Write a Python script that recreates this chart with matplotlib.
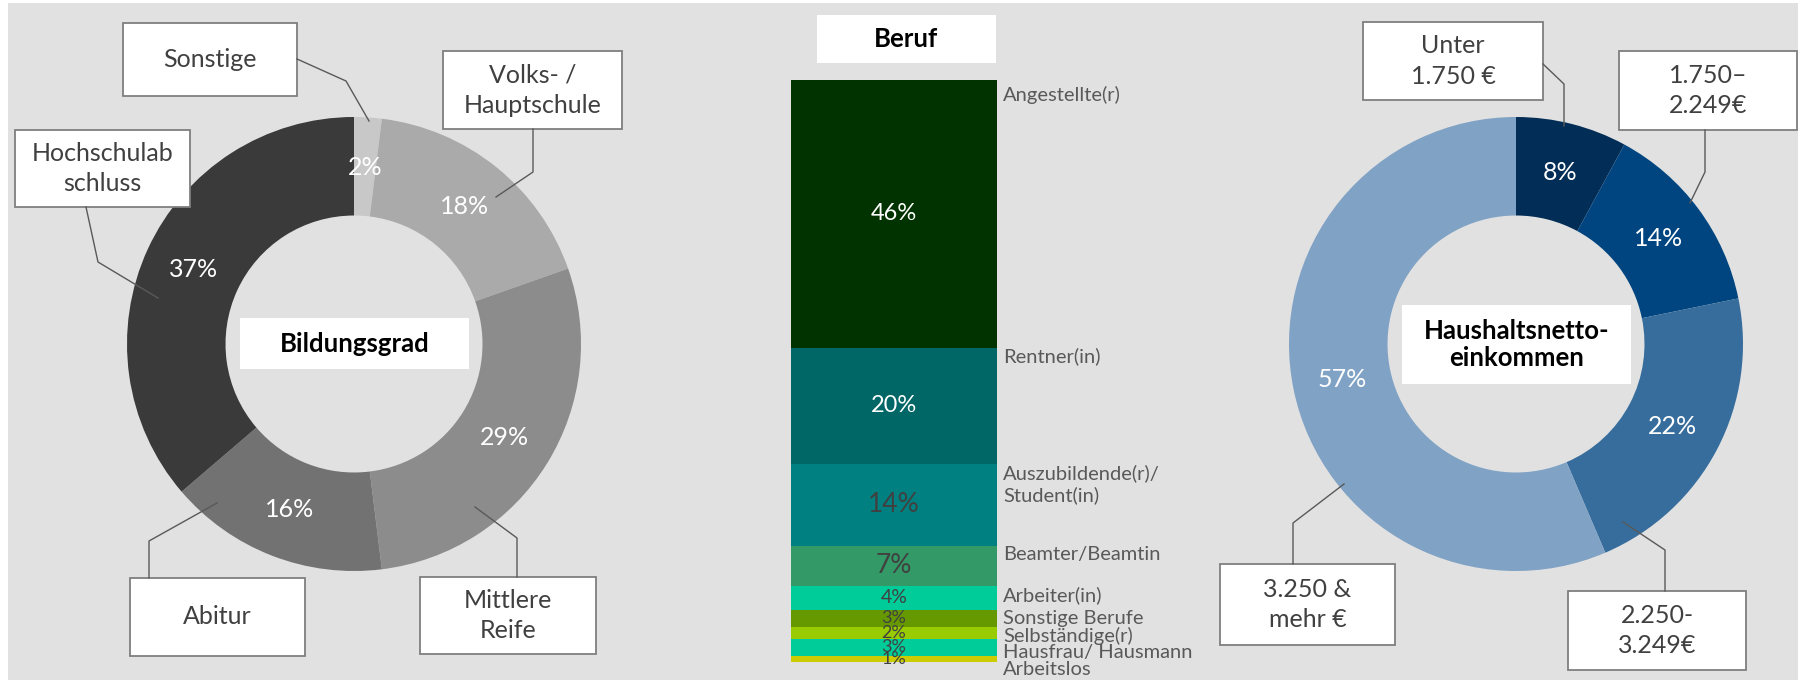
import matplotlib
matplotlib.use('Agg')
import matplotlib.pyplot as plt
from matplotlib.patches import Rectangle
import numpy as np

plt.rcParams['font.family'] = ['Lato', 'DejaVu Sans']

# Bildungsgrad (left donut), clockwise from top
bildung_labels = ['Sonstige', 'Volks- /\nHauptschule', 'Mittlere\nReife', 'Abitur', 'Hochschulab\nschluss']
bildung_values = [2, 18, 29, 16, 37]
bildung_colors = ['#c8c8c8', '#aaaaaa', '#8c8c8c', '#727272', '#3a3a3a']

# Haushaltsnettoeinkommen (right donut), clockwise from top
income_labels = ['Unter\n1.750 €', '1.750–\n2.249€', '2.250-\n3.249€', '3.250 &\nmehr €']
income_values = [8, 14, 22, 57]
income_colors = ['#022d56', '#00457f', '#376d9c', '#80a2c5']

# Beruf (stacked bar), top to bottom
beruf_labels = ['Angestellte(r)', 'Rentner(in)', 'Auszubildende(r)/\nStudent(in)', 'Beamter/Beamtin',
                'Arbeiter(in)', 'Sonstige Berufe', 'Selbständige(r)', 'Hausfrau/ Hausmann', 'Arbeitslos']
beruf_values = [46, 20, 14, 7, 4, 3, 2, 3, 1]
beruf_colors = ['#003300', '#006666', '#008080', '#339966', '#00cc99', '#669900', '#99cc00', '#00cc99', '#cccc00']

W, H = 1806, 680
fig = plt.figure(figsize=(W / 100, H / 100), dpi=100)
fig.patch.set_facecolor('white')

# background panel
axbg = fig.add_axes([0, 0, 1, 1])
axbg.set_xlim(0, W)
axbg.set_ylim(H, 0)
axbg.axis('off')
axbg.add_patch(Rectangle((8, 3), 1798 - 8, H - 3, facecolor='#e1e1e1', edgecolor='none'))


def donut(cx, cy, R, values, colors):
    ax = fig.add_axes([0, 0, 1, 1])
    ax.patch.set_visible(False)
    wedges, texts = ax.pie(values, colors=colors, startangle=90, counterclock=False, radius=1,
                           labels=['%d%%' % v for v in values], labeldistance=0.78,
                           wedgeprops=dict(width=0.434, linewidth=0),
                           textprops=dict(color='white', fontsize=18))
    for t in texts:
        t.set_ha('center')
        t.set_va('center')
    ax.set_xlim(-cx / R, (W - cx) / R)
    ax.set_ylim(-(H - cy) / R, cy / R)
    ax.axis('off')
    return ax


donut(354, 344, 227, bildung_values, bildung_colors)
donut(1516, 344, 227, income_values, income_colors)

# stacked bar
axb = fig.add_axes([791 / W, (H - 662) / H, 206 / W, 582 / H])
axb.patch.set_visible(False)
bottoms = np.concatenate([[0], np.cumsum(beruf_values)[:-1]])
axb.bar(0, beruf_values, bottom=bottoms, width=1, color=beruf_colors, linewidth=0)
axb.set_xlim(-0.5, 0.5)
axb.set_ylim(100, 0)
axb.axis('off')
txt_colors = ['white', 'white'] + ['#404040'] * 7
txt_sizes = [17, 17, 19, 19, 14, 13, 13, 13, 13]
for v, b, c, s in zip(beruf_values, bottoms, txt_colors, txt_sizes):
    axb.text(0, b + v / 2, '%d%%' % v, ha='center', va='center', color=c, fontsize=s)
# category labels next to segment tops, pushed apart where crowded (pixel steps)
unit = 582 / 100
prev = -99
for lab, b in zip(beruf_labels, bottoms):
    ypx = max(b * unit + 10, prev + 17, 16)
    prev = ypx
    axb.text(0.53, (ypx - 10) / unit, lab, ha='left', va='top', color='#595959', fontsize=14.5,
             clip_on=False, linespacing=1.3)

# overlay for boxes and leader lines (pixel coordinates)
axo = fig.add_axes([0, 0, 1, 1])
axo.patch.set_visible(False)
axo.set_xlim(0, W)
axo.set_ylim(H, 0)
axo.axis('off')


def callout(box, text, path):
    x0, y0, x1, y1 = box
    axo.plot([p[0] for p in path], [p[1] for p in path], color='#595959', lw=1)
    axo.add_patch(Rectangle((x0, y0), x1 - x0, y1 - y0, facecolor='white', edgecolor='#7f7f7f', lw=1.3))
    axo.text((x0 + x1) / 2, (y0 + y1) / 2, text, ha='center', va='center', fontsize=18,
             color='#404040', linespacing=1.4)


def title_box(box, text):
    x0, y0, x1, y1 = box
    axo.add_patch(Rectangle((x0, y0), x1 - x0, y1 - y0, facecolor='white', edgecolor='none'))
    axo.text((x0 + x1) / 2, (y0 + y1) / 2, text, ha='center', va='center', fontsize=18.5,
             fontweight='bold', color='black', linespacing=1.15)


bildung_boxes = [(123, 23, 297, 96), (443, 51, 622, 129), (420, 577, 596, 654),
                 (130, 578, 305, 656), (15, 130, 190, 207)]
bildung_paths = [[(297, 59), (346, 81), (369, 121)], [(533, 129), (533, 172), (496, 197)],
                 [(517, 577), (517, 538), (475, 507)], [(149, 578), (149, 541), (217, 503)],
                 [(86, 207), (98, 262), (158, 298)]]
for box, lab, path in zip(bildung_boxes, bildung_labels, bildung_paths):
    callout(box, lab, path)

income_boxes = [(1363, 22, 1543, 100), (1619, 51, 1797, 130), (1568, 591, 1746, 670),
                (1220, 564, 1395, 645)]
income_paths = [[(1543, 64), (1564, 84), (1564, 126)], [(1705, 130), (1705, 172), (1690, 203)],
                [(1665, 591), (1665, 550), (1623, 522)], [(1293, 564), (1293, 523), (1344, 484)]]
for box, lab, path in zip(income_boxes, income_labels, income_paths):
    callout(box, lab, path)

title_box((240, 318, 469, 369), 'Bildungsgrad')
title_box((1402, 305, 1631, 384), 'Haushaltsnetto-\neinkommen')
title_box((817, 15, 996, 63), 'Beruf')

fig.savefig('out.png', dpi=100, facecolor=fig.get_facecolor())
